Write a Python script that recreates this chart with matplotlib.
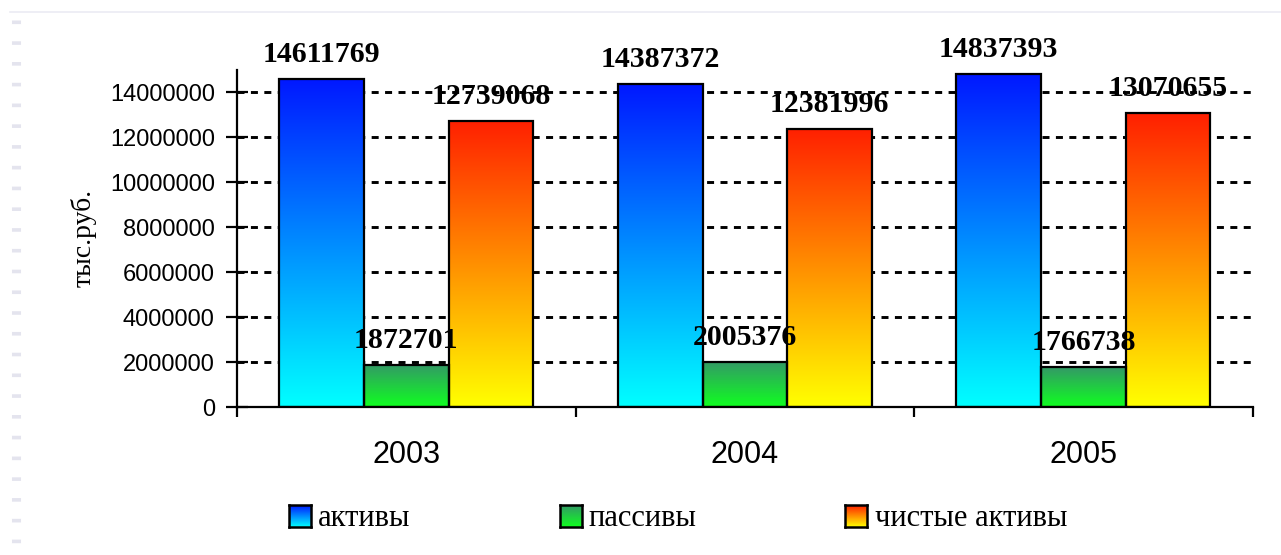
import numpy as np
import matplotlib
matplotlib.use('Agg')
import matplotlib.pyplot as plt
from matplotlib.colors import to_rgb
from matplotlib.lines import Line2D
from matplotlib.ticker import FixedLocator, FuncFormatter

years = ['2003', '2004', '2005']
series_names = ['активы', 'пассивы', 'чистые активы']
assets = [14611769, 14387372, 14837393]
liabilities = [1872701, 2005376, 1766738]
net_assets = [12739068, 12381996, 13070655]
y_ticks = [0, 2000000, 4000000, 6000000, 8000000, 10000000, 12000000, 14000000]

# top colour -> bottom colour of each bar gradient
gradients = [('#0018ff', '#00ffff'), ('#339966', '#10ff20'), ('#ff2000', '#ffff00')]

W, H = 1281, 555
plt.rcParams['font.family'] = ['Liberation Sans', 'DejaVu Sans']
serif = ['Liberation Serif', 'DejaVu Serif']


def grad_img(top, bottom, n=128):
    t = np.linspace(0, 1, n)[:, None]
    c0, c1 = np.array(to_rgb(top)), np.array(to_rgb(bottom))
    return (c0 * (1 - t) + c1 * t)[:, None, :]


fig = plt.figure(figsize=(W / 100, H / 100), dpi=100)
ax = fig.add_axes([237 / W, 1 - 407 / H, (1252.7 - 237) / W, (407 - 70) / H])

width = 0.25
x = np.arange(len(years))
for k, values in enumerate([assets, liabilities, net_assets]):
    offs = (k - 1) * width
    img = grad_img(*gradients[k])
    for i, v in enumerate(values):
        x0 = x[i] + offs - width / 2
        ax.imshow(img, extent=[x0, x0 + width, 0, v], aspect='auto',
                  origin='upper', zorder=2, interpolation='bilinear')
        ax.bar(x[i] + offs, v, width, facecolor='none', edgecolor='black',
               linewidth=1.6, zorder=3)
        ax.annotate(str(v), (x[i] + offs, v), xytext=(0, 8),
                    textcoords='offset points', ha='center', va='bottom',
                    fontsize=21.5, fontweight='bold', family=serif, zorder=4)

ax.set_xlim(-0.5, len(years) - 0.5)
ax.set_ylim(0, 15000000)

ax.yaxis.set_major_locator(FixedLocator(y_ticks))
ax.yaxis.set_major_formatter(FuncFormatter(lambda v, p: '%d' % v))
ax.tick_params(axis='y', direction='inout', length=16, width=1.6,
               labelsize=17, pad=8)
ax.set_axisbelow(True)
ax.yaxis.grid(True, color='black', linewidth=2.1, linestyle=(0, (2.4, 2.2)))

ax.set_xticks(x)
ax.set_xticklabels(years)
ax.set_xticks(np.arange(-0.5, len(years)), minor=True)
ax.tick_params(axis='x', which='major', length=0, labelsize=22, pad=24)
ax.tick_params(axis='x', which='minor', direction='out', length=7, width=1.6)

for s in ['top', 'right']:
    ax.spines[s].set_visible(False)
for s in ['left', 'bottom']:
    ax.spines[s].set_linewidth(1.6)
    ax.spines[s].set_zorder(5)

fig.text(84 / W, 1 - 238 / H, 'тыс.руб.', rotation=90, ha='center',
         va='center', fontsize=20, family=serif)

# legend
legend_pos = [(289, 318), (560, 588), (845, 875)]
for k, (sq, tx) in enumerate(legend_pos):
    lax = fig.add_axes([sq / W, 1 - 527 / H, 22 / W, 22 / H])
    lax.imshow(grad_img(*gradients[k]), aspect='auto', interpolation='bilinear')
    lax.set_xticks([])
    lax.set_yticks([])
    for s in lax.spines.values():
        s.set_linewidth(1.8)
    fig.text(tx / W, 1 - 526 / H, series_names[k], ha='left', va='baseline',
             fontsize=22, family=serif)

# faint slide border
fig.add_artist(Line2D([10 / W, 1], [1 - 12 / H, 1 - 12 / H],
                      transform=fig.transFigure, color='#ebebf3', linewidth=1.2))
fig.add_artist(Line2D([15.5 / W, 15.5 / W], [1 - 20 / H, 0],
                      transform=fig.transFigure, color='#e4e4ee', linewidth=6.5,
                      linestyle=(0, (0.4, 1.9)), solid_capstyle='butt',
                      dash_capstyle='butt'))

fig.savefig('out.png', dpi=100)
